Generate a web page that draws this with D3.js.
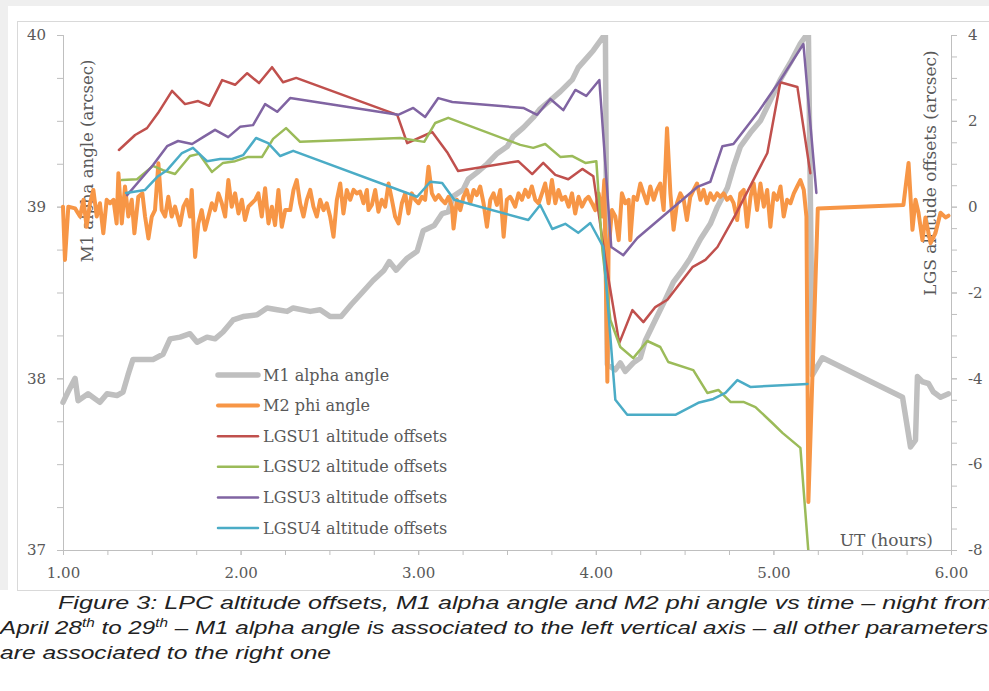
<!DOCTYPE html>
<html>
<head>
<meta charset="utf-8">
<script src="https://cdnjs.cloudflare.com/ajax/libs/d3/7.8.5/d3.min.js"></script>
<style>
  body { margin: 0; background: #efefef; }
  #chart { position: absolute; left: 0; top: 0; }
</style>
</head>
<body>
<div id="chart"></div>
<script>
// ---- data (hours UT, arcsec) ----
const xTicks = [1, 2, 3, 4, 5, 6];
const leftTicks = [37, 38, 39, 40];
const rightTicks = [-8, -6, -4, -2, 0, 2, 4];

const m1Time = [1.000, 1.028, 1.068, 1.085, 1.141, 1.208, 1.248, 1.304, 1.338, 1.366, 1.394, 1.451, 1.507, 1.563, 1.603, 1.659, 1.715, 1.755, 1.811, 1.856, 1.901, 1.958, 2.014, 2.093, 2.149, 2.206, 2.262, 2.296, 2.392, 2.448, 2.504, 2.566, 2.623, 2.685, 2.746, 2.808, 2.837, 2.876, 2.938, 2.994, 3.028, 3.090, 3.135, 3.169, 3.197, 3.254, 3.282, 3.332, 3.389, 3.445, 3.501, 3.535, 3.592, 3.648, 3.687, 3.744, 3.800, 3.868, 3.901, 3.952, 3.986, 4.042, 4.054, 4.065, 4.110, 4.138, 4.166, 4.211, 4.251, 4.279, 4.335, 4.392, 4.437, 4.487, 4.532, 4.589, 4.645, 4.685, 4.741, 4.775, 4.814, 4.870, 4.927, 4.983, 5.039, 5.096, 5.152, 5.180, 5.197, 5.220, 5.276, 5.727, 5.772, 5.800, 5.811, 5.839, 5.873, 5.901, 5.941, 5.986];
const m1Alpha = [37.86, 37.92, 38.00, 37.87, 37.91, 37.86, 37.91, 37.90, 37.92, 38.02, 38.11, 38.11, 38.11, 38.14, 38.23, 38.24, 38.26, 38.21, 38.24, 38.23, 38.27, 38.34, 38.36, 38.37, 38.41, 38.40, 38.39, 38.41, 38.39, 38.40, 38.36, 38.36, 38.43, 38.50, 38.57, 38.63, 38.68, 38.63, 38.70, 38.74, 38.86, 38.89, 38.96, 38.97, 39.06, 39.10, 39.16, 39.20, 39.25, 39.31, 39.35, 39.41, 39.46, 39.52, 39.57, 39.62, 39.67, 39.74, 39.81, 39.87, 39.91, 39.99, 40.02, 38.08, 38.05, 38.09, 38.04, 38.09, 38.12, 38.22, 38.34, 38.46, 38.56, 38.63, 38.70, 38.81, 38.90, 39.00, 39.11, 39.23, 39.35, 39.43, 39.50, 39.62, 39.74, 39.84, 39.95, 39.99, 40.02, 38.02, 38.12, 37.89, 37.60, 37.64, 38.01, 37.98, 37.97, 37.92, 37.89, 37.91];

const m2Time = [1.000, 1.011, 1.030, 1.068, 1.096, 1.115, 1.133, 1.152, 1.171, 1.190, 1.208, 1.227, 1.246, 1.265, 1.284, 1.302, 1.312, 1.331, 1.349, 1.368, 1.387, 1.402, 1.424, 1.447, 1.462, 1.481, 1.500, 1.518, 1.537, 1.556, 1.575, 1.593, 1.612, 1.631, 1.659, 1.678, 1.697, 1.715, 1.725, 1.744, 1.762, 1.781, 1.800, 1.819, 1.838, 1.856, 1.875, 1.894, 1.913, 1.931, 1.950, 1.969, 1.988, 2.007, 2.025, 2.044, 2.063, 2.082, 2.100, 2.119, 2.138, 2.157, 2.176, 2.194, 2.213, 2.232, 2.251,
  2.279, 2.298, 2.316, 2.335, 2.354, 2.373, 2.392, 2.410, 2.429, 2.448, 2.467, 2.485, 2.504, 2.523, 2.542, 2.561, 2.579, 2.598, 2.617, 2.636, 2.654, 2.673, 2.692, 2.711, 2.720, 2.739, 2.758, 2.776, 2.795, 2.814, 2.833, 2.852, 2.870, 2.889, 2.908, 2.927, 2.945, 2.964, 2.983, 3.002, 3.021, 3.039, 3.058, 3.077, 3.096, 3.115, 3.133, 3.152, 3.171, 3.190, 3.199, 3.218, 3.237, 3.255, 3.274, 3.293, 3.312, 3.330, 3.349, 3.368, 3.387, 3.406, 3.424, 3.443, 3.462, 3.481, 3.499, 3.518,
  3.528, 3.546, 3.565, 3.584, 3.603, 3.621, 3.640, 3.659, 3.678, 3.697, 3.715, 3.734, 3.753, 3.772, 3.790, 3.809, 3.828, 3.847, 3.866, 3.884, 3.903, 3.922, 3.941, 3.959, 3.978, 3.997, 4.016, 4.035, 4.048, 4.065, 4.072, 4.091, 4.110, 4.129, 4.147, 4.166, 4.185, 4.194, 4.213, 4.232, 4.251, 4.269, 4.288, 4.307, 4.326, 4.344, 4.363, 4.382, 4.401, 4.420, 4.438, 4.457, 4.476, 4.495, 4.513, 4.532, 4.551, 4.570, 4.589, 4.607, 4.626, 4.645, 4.664, 4.683, 4.701, 4.720, 4.739, 4.758, 4.776,
  4.796, 4.814, 4.833, 4.852, 4.871, 4.889, 4.908, 4.927, 4.946, 4.965, 4.983, 5.002, 5.021, 5.040, 5.058, 5.077, 5.096, 5.115, 5.134, 5.152, 5.171, 5.186, 5.197, 5.250, 5.732, 5.761, 5.783, 5.800, 5.817, 5.839, 5.856, 5.885, 5.913, 5.941, 5.969, 5.986];
const m2Phi = [0.00, -1.24, 0.00, -0.04, -0.23, 0.16, -0.47, 0.08, 0.39, -0.23, 0.08, -0.62, 0.16, 0.08, 0.16, -0.39, 0.78, -0.39, 0.47, -0.23, 0.16, -0.62, 0.23, 0.31, -0.23, -0.74, -0.23, -0.08, 1.01, -0.08, -0.23, 0.23, -0.23, 0.00, -0.43, 0.00, 0.16, -0.23, 0.39, -1.17, -0.39, -0.08, -0.54, -0.23, 0.08, -0.08, 0.31, 0.08, -0.23, 0.62, 0.00, 0.31, -0.16, 0.16, -0.31, 0.00, 0.08, 0.16, 0.31, -0.23, 0.43, -0.39, 0.00, -0.43, 0.39, -0.47, -0.08,
  -0.08, 0.39, 0.62, 0.08, -0.23, 0.16, 0.39, 0.00, -0.23, 0.16, -0.08, 0.08, -0.23, -0.70, 0.16, 0.54, -0.16, 0.39, 0.16, 0.39, 0.31, 0.35, 0.08, 0.39, -0.08, 0.04, 0.39, -0.12, 0.16, 0.00, 0.54, 0.16, -0.23, -0.39, 0.08, 0.31, -0.16, 0.31, 0.16, 0.08, 0.23, 0.16, 0.93, 0.31, 0.16, 0.27, 0.16, 0.08, 0.23, 0.00, -0.51, 0.16, -0.08, 0.23, 0.39, 0.08, 0.39, 0.27, 0.47, 0.08, -0.47, 0.16, 0.31, 0.04, 0.39, -0.70, 0.16, 0.23,
  0.16, 0.00, 0.31, 0.16, 0.39, 0.23, 0.47, 0.16, 0.08, 0.31, 0.54, 0.08, 0.62, 0.08, 0.39, 0.16, 0.23, 0.00, 0.31, -0.16, 0.23, 0.00, 0.16, 0.23, 0.08, -0.08, 0.31, -0.23, 0.62, -4.08, -1.01, -0.08, -0.23, -0.78, 0.31, 0.08, 0.16, -0.78, 0.23, 0.16, 0.54, 0.31, 0.08, 0.47, 0.16, 0.39, 0.54, -0.08, 1.83, 0.31, -0.54, 0.08, 0.31, 0.16, -0.31, 0.23, 0.39, 0.54, 0.16, 0.39, 0.08, 0.31, 0.16, 0.31, 0.23, 0.31, 0.16, 0.23, 0.08,
  -0.31, 0.31, 0.39, -0.47, 0.23, 0.54, -0.08, 0.54, 0.00, 0.39, -0.47, 0.31, 0.16, 0.47, -0.23, 0.16, 0.08, 0.31, 0.47, 0.62, 0.39, -0.23, -6.88, -0.04, 0.04, 1.02, -0.54, 0.16, -0.14, -0.78, -0.25, -0.85, -0.61, -0.14, -0.25, -0.21];

const lgsu1Time = [1.315, 1.406, 1.473, 1.535, 1.614, 1.687, 1.761, 1.823, 1.896, 1.969, 2.037, 2.104, 2.177, 2.239, 2.313, 2.882, 2.938, 3.079, 3.163, 3.225, 3.563, 3.642, 3.704, 3.772, 3.845, 3.924, 3.986, 4.054, 4.132, 4.206, 4.268, 4.335, 4.403, 4.544, 4.617, 4.685, 4.786, 4.966, 5.039, 5.135, 5.208];
const lgsu1Off = [1.32, 1.67, 1.83, 2.18, 2.70, 2.39, 2.46, 2.35, 2.95, 2.84, 3.11, 2.88, 3.25, 2.90, 3.00, 2.14, 1.48, 1.74, 1.27, 0.83, 1.06, 0.76, 1.02, 0.74, 0.64, 0.88, 0.71, -1.24, -3.18, -2.41, -2.69, -2.34, -2.17, -1.41, -1.24, -0.94, -0.19, 1.25, 2.90, 2.79, 0.78];

const lgsu2Time = [1.332, 1.417, 1.507, 1.563, 1.631, 1.715, 1.766, 1.839, 1.901, 1.969, 2.042, 2.121, 2.183, 2.256, 2.335, 2.899, 3.034, 3.096, 3.169, 3.575, 3.648, 3.715, 3.800, 3.868, 3.941, 4.003, 4.037, 4.082, 4.138, 4.211, 4.290, 4.363, 4.408, 4.549, 4.628, 4.690, 4.758, 4.831, 4.899, 4.994, 5.051, 5.152, 5.200];
const lgsu2Off = [0.62, 0.64, 0.95, 0.85, 0.76, 1.18, 1.23, 0.81, 1.02, 1.06, 1.16, 1.16, 1.58, 1.83, 1.51, 1.60, 1.51, 1.95, 2.07, 1.44, 1.37, 1.46, 1.16, 1.18, 1.02, 1.06, -1.01, -2.64, -3.27, -3.53, -3.13, -3.27, -3.62, -3.81, -4.34, -4.27, -4.55, -4.55, -4.67, -5.04, -5.27, -5.62, -8.20];

const lgsu3Time = [1.361, 1.434, 1.507, 1.586, 1.648, 1.727, 1.789, 1.856, 1.930, 1.997, 2.070, 2.138, 2.206, 2.279, 2.887, 2.972, 3.039, 3.113, 3.192, 3.592, 3.670, 3.744, 3.817, 3.885, 3.946, 4.020, 4.087, 4.155, 4.234, 4.572, 4.645, 4.713, 4.775, 4.910, 5.039, 5.169, 5.242];
const lgsu3Off = [0.27, 0.62, 0.97, 1.41, 1.53, 1.46, 1.62, 1.79, 1.62, 1.86, 1.90, 2.39, 2.21, 2.53, 2.14, 2.30, 2.09, 2.53, 2.44, 2.30, 2.14, 2.51, 2.25, 2.72, 2.58, 2.95, -0.94, -1.13, -0.73, 0.46, 0.58, 1.41, 1.46, 2.18, 2.95, 3.79, 0.32];

const lgsu4Time = [1.355, 1.462, 1.535, 1.586, 1.670, 1.732, 1.811, 1.885, 1.952, 2.014, 2.087, 2.155, 2.223, 2.296, 2.994, 3.068, 3.135, 3.203, 3.620, 3.687, 3.755, 3.828, 3.901, 3.969, 4.042, 4.110, 4.177, 4.448, 4.577, 4.662, 4.730, 4.797, 4.870, 5.192];
const lgsu4Off = [0.32, 0.39, 0.71, 0.85, 1.25, 1.37, 1.06, 1.11, 1.11, 1.20, 1.60, 1.48, 1.18, 1.30, 0.23, 0.58, 0.55, 0.16, -0.31, 0.04, -0.52, -0.40, -0.61, -0.38, -0.94, -4.50, -4.85, -4.85, -4.57, -4.48, -4.34, -4.04, -4.20, -4.13];

const seriesNames = ["M1 alpha angle", "M2 phi angle", "LGSU1 altitude offsets", "LGSU2 altitude offsets", "LGSU3 altitude offsets", "LGSU4 altitude offsets"];

makeChart();

function makeChart(){
    const W = 989, H = 691;
    const plot = {left: 63, right: 951, top: 35, bottom: 550};
    const colors = ["#bfbfbf", "#f79646", "#c0504d", "#9bbb59", "#8064a2", "#4bacc6"];
    const widths = [5.5, 4, 2.5, 2.5, 2.5, 2.5];
    const serif = "'DejaVu Serif', serif";
    const textGray = "#595959";

    const svg = d3.select("#chart")
        .append("svg")
        .attr("width", W)
        .attr("height", H);

    // page background and white panel
    svg.append("rect").attr("x", 8).attr("y", 6).attr("width", W - 8).attr("height", 584).attr("fill", "#fff");
    svg.append("rect").attr("x", 0).attr("y", 590).attr("width", W).attr("height", H - 590).attr("fill", "#fff");
    svg.append("rect").attr("x", 17.5).attr("y", 21.5).attr("width", W).attr("height", 569)
        .attr("fill", "none").attr("stroke", "#d9d9d9");

    const x = d3.scaleLinear().domain([1, 6]).range([plot.left, plot.right]);
    const yL = d3.scaleLinear().domain([37, 40]).range([plot.bottom, plot.top]);
    const yR = d3.scaleLinear().domain([-8, 4]).range([plot.bottom, plot.top]);

    function styleAxis(g){
        g.select(".domain").attr("stroke", "#bfbfbf");
        g.selectAll(".tick line").attr("stroke", "#bfbfbf");
        g.selectAll("text").attr("fill", textGray).style("font-family", serif).style("font-size", "15px");
    }

    // minor ticks
    svg.append("g").attr("transform", `translate(${plot.left},0)`)
        .call(d3.axisLeft(yL).tickValues(d3.range(37, 40.01, 0.25)).tickSize(6).tickFormat(""))
        .call(styleAxis);
    svg.append("g").attr("transform", `translate(${plot.right},0)`)
        .call(d3.axisRight(yR).tickValues(d3.range(-8, 4.01, 0.5)).tickSize(6).tickFormat(""))
        .call(styleAxis);
    svg.append("g").attr("transform", `translate(0,${plot.bottom})`)
        .call(d3.axisBottom(x).tickValues(d3.range(1, 6.01, 0.25)).tickSize(5).tickFormat(""))
        .call(styleAxis);

    // labelled ticks
    svg.append("g").attr("transform", `translate(${plot.left},0)`)
        .call(d3.axisLeft(yL).tickValues(leftTicks).tickSize(6).tickPadding(11).tickFormat(d => String(d)))
        .call(styleAxis);
    svg.append("g").attr("transform", `translate(${plot.right},0)`)
        .call(d3.axisRight(yR).tickValues(rightTicks).tickSize(6).tickPadding(11).tickFormat(d => String(d)))
        .call(styleAxis);
    svg.append("g").attr("transform", `translate(0,${plot.bottom})`)
        .call(d3.axisBottom(x).tickValues(xTicks).tickSize(5).tickPadding(12).tickFormat(d3.format(".2f")))
        .call(styleAxis);

    // axis titles
    svg.append("text")
        .attr("transform", "translate(93,161) rotate(-90)")
        .attr("text-anchor", "middle")
        .attr("fill", textGray).style("font-family", serif).style("font-size", "16.5px")
        .text("M1 alpha angle (arcsec)");
    svg.append("text")
        .attr("transform", "translate(936,173) rotate(-90)")
        .attr("text-anchor", "middle")
        .attr("fill", textGray).style("font-family", serif).style("font-size", "17px")
        .text("LGS altitude offsets (arcsec)");
    svg.append("text")
        .attr("x", 933).attr("y", 546)
        .attr("text-anchor", "end")
        .attr("fill", textGray).style("font-family", serif).style("font-size", "17px")
        .text("UT (hours)");

    // series
    svg.append("clipPath").attr("id", "plotClip")
        .append("rect").attr("x", plot.left - 3).attr("y", plot.top).attr("width", plot.right - plot.left + 6).attr("height", plot.bottom - plot.top);

    const series = [
        {t: m1Time, v: m1Alpha, y: yL},
        {t: m2Time, v: m2Phi, y: yR},
        {t: lgsu1Time, v: lgsu1Off, y: yR},
        {t: lgsu2Time, v: lgsu2Off, y: yR},
        {t: lgsu3Time, v: lgsu3Off, y: yR},
        {t: lgsu4Time, v: lgsu4Off, y: yR}
    ];

    const lines = svg.append("g").attr("clip-path", "url(#plotClip)");
    series.forEach(function(s, i){
        const pts = s.t.map((t, j) => [t, s.v[j]]);
        lines.append("path")
            .datum(pts)
            .attr("d", d3.line().x(d => x(d[0])).y(d => s.y(d[1])))
            .attr("fill", "none")
            .attr("stroke", colors[i])
            .attr("stroke-width", widths[i])
            .attr("stroke-linejoin", "round")
            .attr("stroke-linecap", "round");
    });

    // legend
    const legend = svg.append("g").selectAll("g")
        .data(seriesNames)
        .enter()
        .append("g")
        .attr("transform", (d, i) => `translate(218,${375 + i * 30.6})`);
    legend.append("line")
        .attr("x1", 0).attr("x2", 40)
        .attr("stroke", (d, i) => colors[i])
        .attr("stroke-width", (d, i) => widths[i])
        .attr("stroke-linecap", "round");
    legend.append("text")
        .attr("x", 45).attr("dy", "0.35em")
        .attr("fill", textGray).style("font-family", serif).style("font-size", "16px")
        .text(d => d);

    // caption
    const cap = svg.append("g")
        .style("font-family", "'Liberation Sans Narrow', 'Arial Narrow', 'Liberation Sans', sans-serif")
        .style("font-style", "italic").style("font-size", "19px").attr("fill", "#222");
    cap.append("text").attr("x", 58).attr("y", 609)
        .attr("textLength", 936).attr("lengthAdjust", "spacingAndGlyphs")
        .text("Figure 3: LPC altitude offsets, M1 alpha angle and M2 phi angle vs time \u2013 night from");
    const l2 = cap.append("text").attr("x", 0).attr("y", 634)
        .attr("textLength", 988).attr("lengthAdjust", "spacingAndGlyphs");
    l2.append("tspan").text("April 28");
    l2.append("tspan").attr("baseline-shift", "super").style("font-size", "12px").text("th");
    l2.append("tspan").text(" to 29");
    l2.append("tspan").attr("baseline-shift", "super").style("font-size", "12px").text("th");
    l2.append("tspan").text(" \u2013 M1 alpha angle is associated to the left vertical axis \u2013 all other parameters");
    cap.append("text").attr("x", 0).attr("y", 659)
        .attr("textLength", 331).attr("lengthAdjust", "spacingAndGlyphs")
        .text("are associated to the right one");
}
</script>
</body>
</html>
